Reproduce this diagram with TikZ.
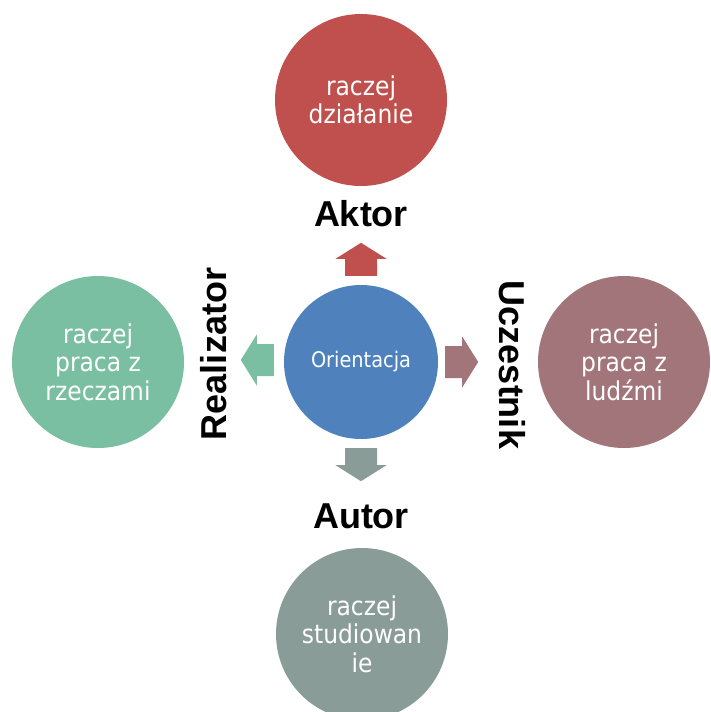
\documentclass[tikz,border=0pt]{standalone}
\usepackage{fontspec}
\setmainfont{DejaVu Sans}
\newfontfamily\bubblefont{DejaVu Sans Condensed}
\newfontfamily\labelfont{Liberation Sans}
\usetikzlibrary{calc}

\definecolor{actred}{RGB}{192,80,77}
\definecolor{coreblue}{RGB}{79,129,189}
\definecolor{peoplemauve}{RGB}{162,117,122}
\definecolor{thingsgreen}{RGB}{123,191,162}
\definecolor{studygray}{RGB}{137,156,151}

\tikzset{
  bubble/.style={circle, fill=#1, minimum size=172pt, inner sep=0pt,
    text=white, align=center, font=\bubblefont\fontsize{26}{28.5}\selectfont},
  rolelabel/.style={font=\labelfont\bfseries\fontsize{36}{36}\selectfont,
    inner sep=0pt, anchor=base},
  blockarrow/.pic={
    \fill[pic actions] (0,-16) -- (17,-16) -- (17,-25.5) -- (33,0)
      -- (17,25.5) -- (17,16) -- (0,16) -- cycle;
  }
}

\begin{document}
\begin{tikzpicture}[x=1pt,y=-1pt]
  \useasboundingbox (0,0) rectangle (711,712);
  \clip (0,0) rectangle (711,712);

  % central circle
  \node[circle, fill=coreblue, minimum size=154pt, inner sep=0pt, text=white,
        font=\bubblefont\fontsize{21.5}{24}\selectfont] (core) at (361,362) {Orientacja};

  % outer circles
  \node[bubble=actred]      (act)    at (361,100) {raczej\\działanie};
  \node[bubble=thingsgreen] (things) at (98,362)  {raczej\\praca z\\rzeczami};
  \node[bubble=peoplemauve] (people) at (624,362) {raczej\\praca z\\ludźmi};
  \node[bubble=studygray]   (study)  at (362,634) {raczej\\studiowan\\ie};

  % block arrows leaving the central circle
  \pic[fill=actred, rotate=90]       at ($(core.north)+(0,-9)$) {blockarrow};
  \pic[fill=peoplemauve]             at ($(core.east)+(7,0)$)   {blockarrow};
  \pic[fill=thingsgreen, rotate=180] at ($(core.west)+(-10,-2)$) {blockarrow};
  \pic[fill=studygray, rotate=-90]   at ($(core.south)+(0,9)$)  {blockarrow};

  % role labels
  \node[rolelabel] (aktor) at (361,226) {Aktor};
  \node[rolelabel] (autor) at (361,528) {Autor};
  \node[rolelabel, rotate=90]  (realizator) at (226,354) {Realizator};
  \node[rolelabel, rotate=-90] (uczestnik)  at (499,365) {Uczestnik};
\end{tikzpicture}
\end{document}
